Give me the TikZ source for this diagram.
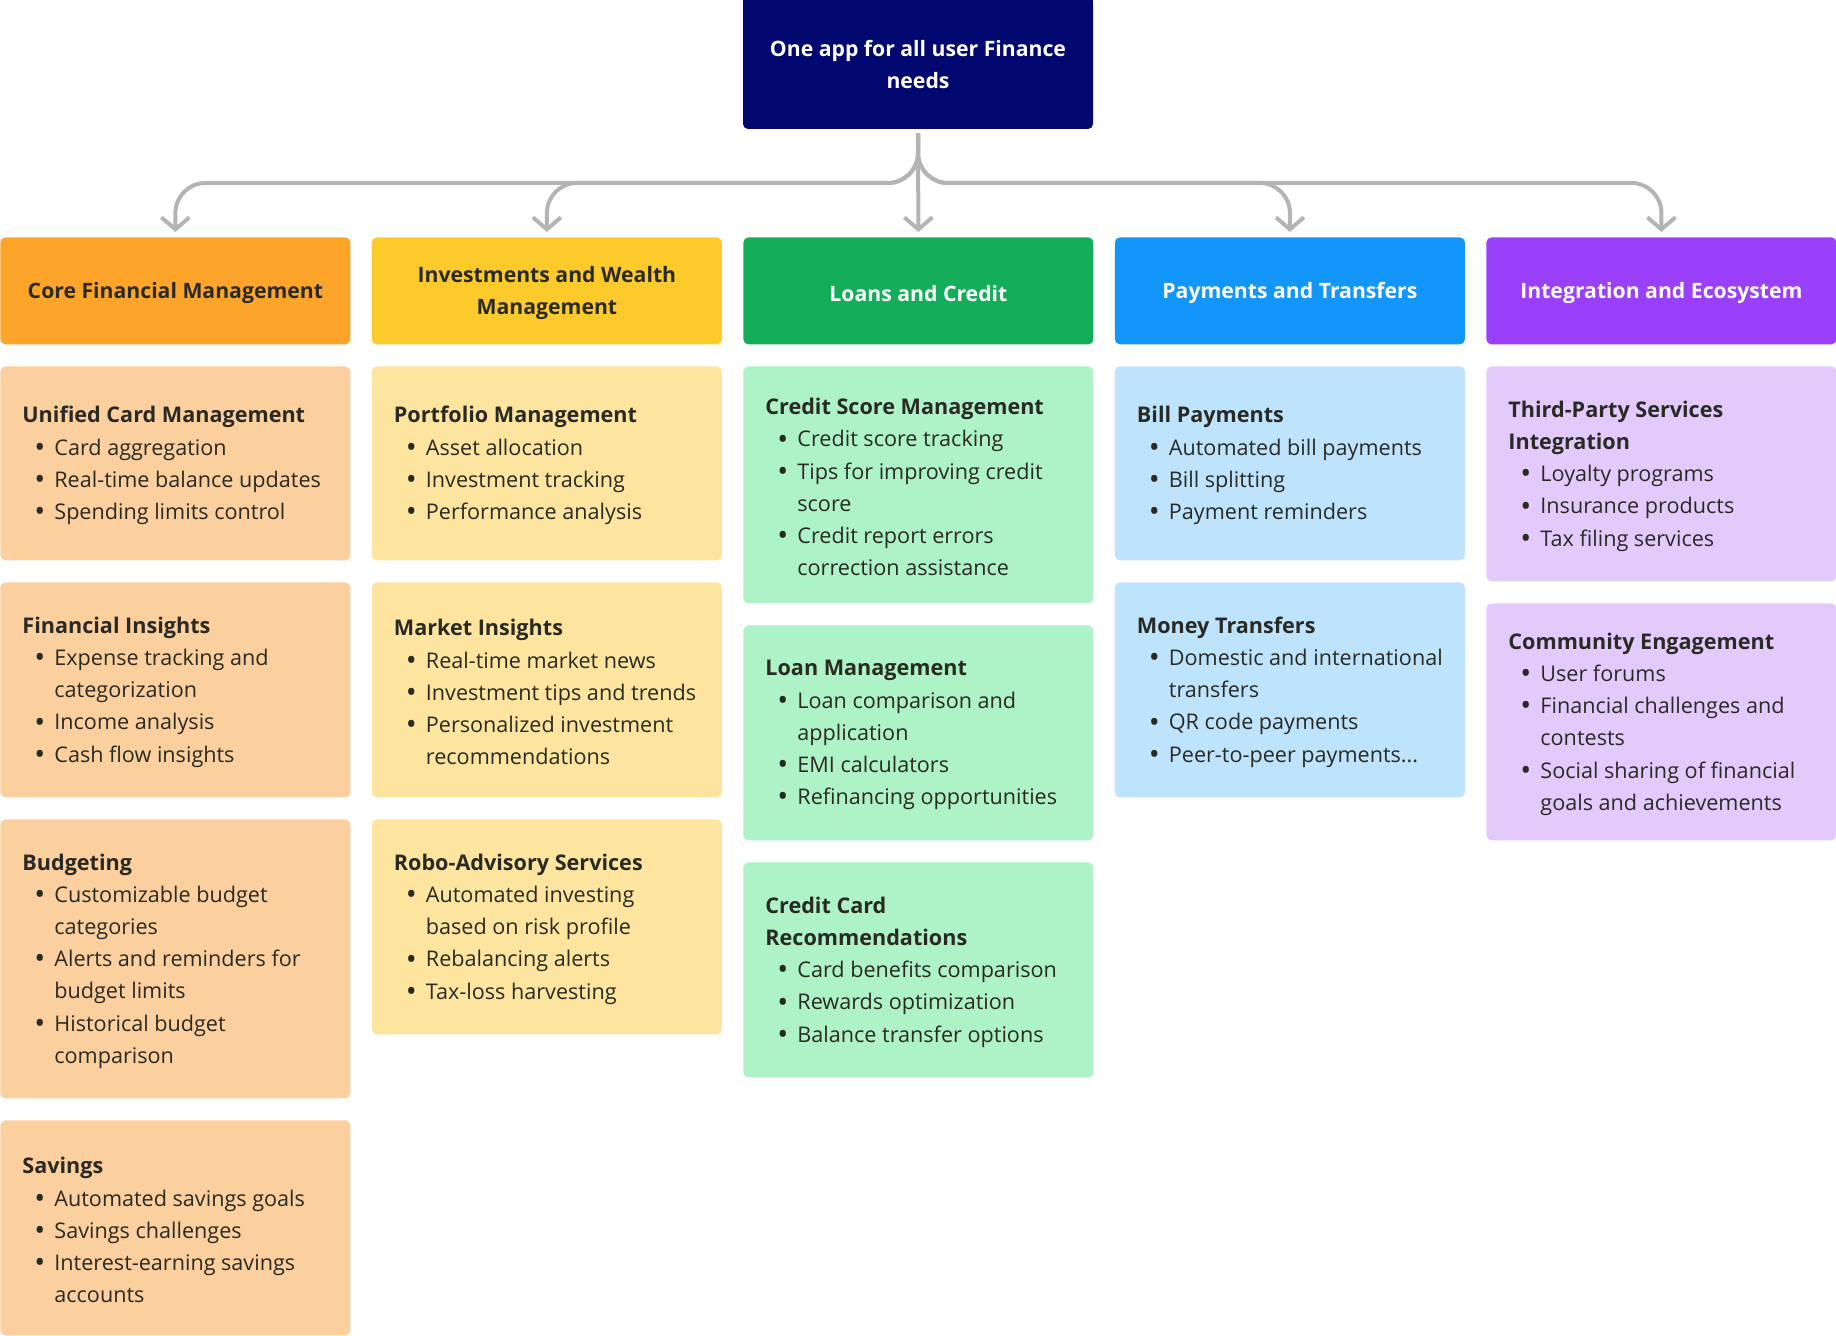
\documentclass[tikz,border=0pt]{standalone}
\usepackage{fontspec}
\setmainfont{Open Sans}
\usetikzlibrary{arrows.meta,calc}

\definecolor{navy}{RGB}{3,7,112}
\definecolor{orH}{RGB}{253,165,43}
\definecolor{orC}{RGB}{251,208,158}
\definecolor{yeH}{RGB}{253,202,44}
\definecolor{yeC}{RGB}{253,229,160}
\definecolor{grH}{RGB}{20,173,90}
\definecolor{grC}{RGB}{174,242,200}
\definecolor{blH}{RGB}{18,150,249}
\definecolor{blC}{RGB}{190,227,253}
\definecolor{puH}{RGB}{154,64,251}
\definecolor{puC}{RGB}{227,202,252}
\definecolor{ink}{RGB}{42,42,36}
\definecolor{wire}{RGB}{180,180,180}

\newcommand{\bi}{\hspace*{6.0pt}\makebox[10pt][l]{\raisebox{-0.1em}{\scalebox{1.35}{\textbullet}}}}
\newcommand{\ct}{\hspace*{16pt}}
\newcommand{\hd}[1]{\textbf{#1}}
\newcommand{\card}[6]{%
  \node[box, fill=#2, minimum height={(#5-#4)*0.5pt}] (#1) at (#3,#4) {};
  \node[txt] (#1t) at ([xshift=11pt,yshift=-1.1pt]#1.west) {#6};
}
\newcommand{\header}[5]{%
  \node[hdr, fill=#2] (#1) at (#4,237) {};
  \node[hdrtxt, text=#3] (#1t) at ([yshift=-1.1pt]#1.center) {#5};
}

\begin{document}
\begin{tikzpicture}[x=0.5pt,y=-0.5pt,
  box/.style={rounded corners=2.5pt, inner sep=0pt, minimum width=175pt, anchor=north west},
  hdr/.style={box, minimum height=53.5pt},
  hdrtxt/.style={inner sep=0pt, font=\bfseries\fontsize{10.6}{16.1}\selectfont, align=center},
  txt/.style={anchor=west, inner sep=0pt, align=left, text=ink, font=\fontsize{10.8}{16.1}\selectfont},
  conn/.style={draw=wire, line width=2pt, rounded corners=15pt, -{Straight Barb[length=6pt,width=14pt]}}
]
\useasboundingbox (0,0) rectangle (1836,1336);

% top node
\node[fill=navy, text=white, rounded corners=2.5pt, inner sep=0pt, minimum width=175pt, minimum height=64.5pt,
      font=\bfseries\fontsize{10.6}{16.1}\selectfont, align=center] (top) at (918,64.5) {One app for all user Finance\\needs};
\fill[navy] (top.north west) rectangle ([yshift=-5pt]top.north east);

% headers
\header{h1}{orH}{ink}{0}{Core Financial Management}
\header{h2}{yeH}{ink}{371.5}{Investments and Wealth\\Management}
\header{h3}{grH}{white}{743}{Loans and Credit}
\header{h4}{blH}{white}{1114.5}{Payments and Transfers}
\header{h5}{puH}{white}{1486}{Integration and Ecosystem}

% connectors
\coordinate (bus) at (918,183);
\draw[conn] ([yshift=-2pt]top.south) -- (top.south |- bus) -- (h1.north |- bus) -- ([yshift=2.5pt]h1.north);
\draw[conn] ([yshift=-2pt]top.south) -- (top.south |- bus) -- (h2.north |- bus) -- ([yshift=2.5pt]h2.north);
\draw[conn] ([yshift=-2pt]top.south) -- ([yshift=2.5pt]h3.north);
\draw[conn] ([yshift=-2pt]top.south) -- (top.south |- bus) -- (h4.north |- bus) -- ([yshift=2.5pt]h4.north);
\draw[conn] ([yshift=-2pt]top.south) -- (top.south |- bus) -- (h5.north |- bus) -- ([yshift=2.5pt]h5.north);

% column 1
\card{c11}{orC}{0}{366}{560}{\hd{Unified Card Management}\\\bi Card aggregation\\\bi Real-time balance updates\\\bi Spending limits control}
\card{c12}{orC}{0}{582}{797}{\hd{Financial Insights}\\\bi Expense tracking and\\\ct categorization\\\bi Income analysis\\\bi Cash flow insights}
\card{c13}{orC}{0}{819}{1098}{\hd{Budgeting}\\\bi Customizable budget\\\ct categories\\\bi Alerts and reminders for\\\ct budget limits\\\bi Historical budget\\\ct comparison}
\card{c14}{orC}{0}{1120}{1335}{\hd{Savings}\\\bi Automated savings goals\\\bi Savings challenges\\\bi Interest-earning savings\\\ct accounts}

% column 2
\card{c21}{yeC}{371.5}{366}{560}{\hd{Portfolio Management}\\\bi Asset allocation\\\bi Investment tracking\\\bi Performance analysis}
\card{c22}{yeC}{371.5}{582}{797}{\hd{Market Insights}\\\bi Real-time market news\\\bi Investment tips and trends\\\bi Personalized investment\\\ct recommendations}
\card{c23}{yeC}{371.5}{819}{1034}{\hd{Robo-Advisory Services}\\\bi Automated investing\\\ct based on risk profile\\\bi Rebalancing alerts\\\bi Tax-loss harvesting}

% column 3
\card{c31}{grC}{743}{366}{603}{\hd{Credit Score Management}\\\bi Credit score tracking\\\bi Tips for improving credit\\\ct score\\\bi Credit report errors\\\ct correction assistance}
\card{c32}{grC}{743}{625}{840}{\hd{Loan Management}\\\bi Loan comparison and\\\ct application\\\bi EMI calculators\\\bi Refinancing opportunities}
\card{c33}{grC}{743}{862}{1077}{\hd{Credit Card}\\\hd{Recommendations}\\\bi Card benefits comparison\\\bi Rewards optimization\\\bi Balance transfer options}

% column 4
\card{c41}{blC}{1114.5}{366}{560}{\hd{Bill Payments}\\\bi Automated bill payments\\\bi Bill splitting\\\bi Payment reminders}
\card{c42}{blC}{1114.5}{582}{797}{\hd{Money Transfers}\\\bi Domestic and international\\\ct transfers\\\bi QR code payments\\\bi Peer-to-peer payments...}

% column 5
\card{c51}{puC}{1486}{366}{581}{\hd{Third-Party Services}\\\hd{Integration}\\\bi Loyalty programs\\\bi Insurance products\\\bi Tax filing services}
\card{c52}{puC}{1486}{603}{840}{\hd{Community Engagement}\\\bi User forums\\\bi Financial challenges and\\\ct contests\\\bi Social sharing of financial\\\ct goals and achievements}

\end{tikzpicture}
\end{document}
